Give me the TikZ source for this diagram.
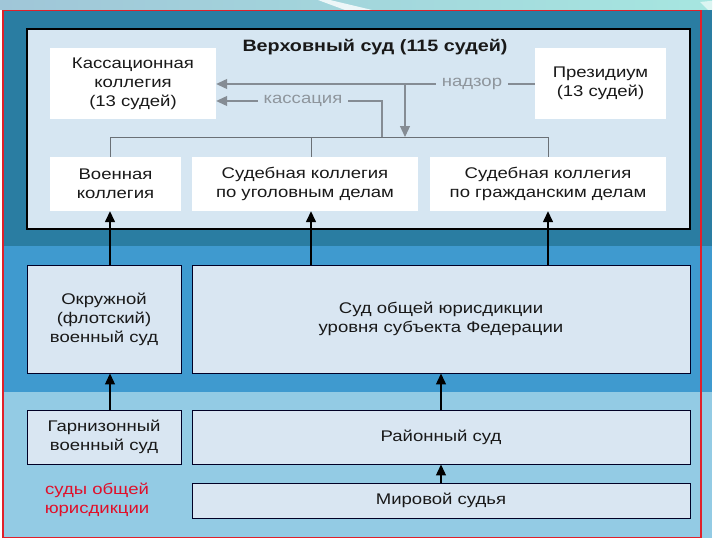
\documentclass[tikz,border=0pt]{standalone}
\usepackage{fontspec}
\setmainfont{Liberation Sans}[FakeStretch=1.2]
\usetikzlibrary{arrows.meta,calc}
\definecolor{stripleft}{HTML}{A0C6D8}
\definecolor{stripright}{HTML}{A6E6E0}
\definecolor{darkband}{HTML}{2A7DA2}
\definecolor{midband}{HTML}{3F9ACF}
\definecolor{lightband}{HTML}{93CBE4}
\definecolor{panelfill}{HTML}{D6E6F2}
\definecolor{boxfill}{HTML}{D9E6F2}
\definecolor{grayline}{HTML}{858C94}
\definecolor{graytext}{HTML}{8E959C}
\definecolor{redline}{HTML}{E0202A}
\definecolor{redtext}{HTML}{E0102A}
\tikzset{
  txt/.style={font=\fontsize{15.5}{19}\selectfont, align=center, text=black!90},
  whitebox/.style={txt, fill=white, draw=none, inner sep=0pt},
  bluebox/.style={txt, fill=boxfill, draw=black!85!blue, line width=1pt, inner sep=0pt},
  grayarrow/.style={draw=grayline, line width=1.2pt, -{Triangle[length=11pt,width=10pt]}},
  grayconn/.style={draw=grayline!80!black, line width=0.8pt},
  blackarrow/.style={draw=black, line width=1.4pt, -{Triangle[length=11pt,width=10pt]}},
  graylabel/.style={font=\fontsize{15.5}{19}\selectfont, text=graytext, fill=panelfill, inner xsep=6pt, inner ysep=1pt},
}
\begin{document}
\begin{tikzpicture}[x=1bp,y=-1bp]
\useasboundingbox (0,0) rectangle (720,540);
% background
\fill[white] (0,0) rectangle (720,540);
\shade[left color=stripleft, right color=stripright] (0,0) rectangle (712,10);
\fill[white,opacity=0.8] (318,0) -- (330,0) -- (372,10) -- (345,10) -- cycle;
\fill[white,opacity=0.6] (700,2) -- (720,0) -- (720,10) -- (708,10) -- cycle;
\fill[darkband] (2,10) rectangle (712,246);
\fill[midband] (2,246) rectangle (712,392);
\fill[lightband] (2,392) rectangle (712,538);
\draw[redline, line width=1.5pt] (3,10.5) rectangle (701,537.5);
% upper panel
\node[draw=black, line width=1.2pt, fill=panelfill, minimum width=663bp, minimum height=200bp, inner sep=0pt] (panel) at (358.5,129) {};
\node[font=\fontsize{16.5}{19}\selectfont\bfseries, text=black!90] (title) at (375,47) {Верховный суд (115 судей)};
\node[whitebox, minimum width=166bp, minimum height=71bp] (kass) at (133,83.5) {Кассационная\\коллегия\\(13 судей)};
\node[whitebox, minimum width=131bp, minimum height=71bp] (prez) at (600.5,83.5) {Президиум\\(13 судей)};
\node[whitebox, minimum width=131bp, minimum height=54bp] (voen) at (115.5,184) {Военная\\коллегия};
\node[whitebox, minimum width=226bp, minimum height=54bp] (ugol) at (305,184) {Судебная коллегия\\по уголовным делам};
\node[whitebox, minimum width=236bp, minimum height=54bp] (grazh) at (548,184) {Судебная коллегия\\по гражданским делам};
% lower courts
\node[bluebox, minimum width=154bp, minimum height=108bp] (okr) at (104,319) {Окружной\\(флотский)\\военный суд};
\node[bluebox, minimum width=498bp, minimum height=108bp] (subj) at (441,319) {Суд общей юрисдикции\\уровня субъекта Федерации};
\node[bluebox, minimum width=154bp, minimum height=54bp] (garn) at (104,437) {Гарнизонный\\военный суд};
\node[bluebox, minimum width=498bp, minimum height=54bp] (rai) at (441,437) {Районный суд};
\node[bluebox, minimum width=498bp, minimum height=35bp] (mir) at (441,500.5) {Мировой судья};
\node[txt, text=redtext] (obsh) at (97,500) {суды общей\\юрисдикции};
% column coordinates
\coordinate (c1) at (110,0);
\coordinate (c2) at (311,0);
\coordinate (c3) at (548,0);
\coordinate (c4) at (441,0);
\coordinate (nadzx) at (405,0);
\coordinate (kassx) at (382,0);
\coordinate (brk) at (0,137);
\coordinate (lnA) at (0,84);
\coordinate (lnB) at (0,101);
% gray connectors
\draw[grayarrow] (prez.west |- lnA) -- (kass.east |- lnA);
\node[graylabel] (nadz) at (472,84) {надзор};
\draw[grayarrow] (nadzx |- lnA) -- (nadzx |- brk);
\draw[grayarrow] (kassx |- brk) -- (kassx |- lnB) -- (kass.east |- lnB);
\node[graylabel] (kasslab) at (303,101) {кассация};
\draw[grayconn] (c1 |- voen.north) -- (c1 |- brk) -- (c3 |- brk) -- (c3 |- grazh.north);
\draw[grayconn] (c2 |- brk) -- (c2 |- ugol.north);
% black arrows
\draw[blackarrow] (c1 |- okr.north) -- (c1 |- voen.south);
\draw[blackarrow] (c2 |- subj.north) -- (c2 |- ugol.south);
\draw[blackarrow] (c3 |- subj.north) -- (c3 |- grazh.south);
\draw[blackarrow] (c1 |- garn.north) -- (c1 |- okr.south);
\draw[blackarrow] (c4 |- rai.north) -- (c4 |- subj.south);
\draw[blackarrow] (c4 |- mir.north) -- (c4 |- rai.south);
\end{tikzpicture}
\end{document}
